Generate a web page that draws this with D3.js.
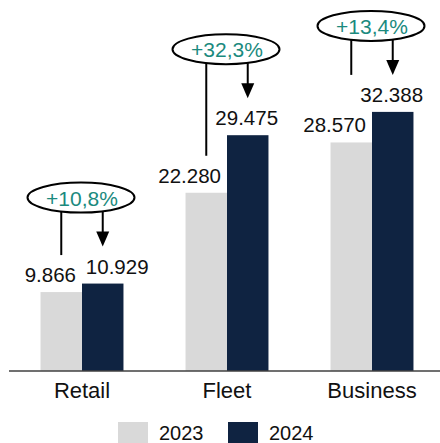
<!DOCTYPE html>
<html>
<head>
<meta charset="utf-8">
<script src="https://cdn.jsdelivr.net/npm/d3@7"></script>
<style>
  html, body { margin: 0; padding: 0; background: #fff; }
  svg { display: block; font-family: "Liberation Sans", Arial, sans-serif; }
</style>
</head>
<body>
<svg id="chart" width="440" height="443"></svg>
<script>
// Data
const categories = ["Retail", "Fleet", "Business"];
const seriesNames = ["2023", "2024"];
const values2023 = [9866, 22280, 28570];
const values2024 = [10929, 29475, 32388];
// which series the left stem of each growth callout ends above
const stemAnchor = ["2023", "2023", "2024"];

const colors = { "2023": "#d9d9d9", "2024": "#0f2341" };
const growthColor = "#1b8a7e";
const fontSize = 20;

const svg = d3.select("#chart");
const W = 440, H = 443;
const baseY = 371;

const x = d3.scaleBand()
  .domain(categories)
  .range([9.5, 444.5])
  .paddingInner(0.428)
  .paddingOuter(0.214);

const xs = d3.scaleBand()
  .domain(seriesNames)
  .range([0, x.bandwidth()]);

const y = d3.scaleLinear()
  .domain([0, 40000])
  .range([baseY, baseY - 320]);

const fmtNum = d3.formatLocale({ decimal: ",", thousands: ".", grouping: [3], currency: ["", ""] }).format(",d");
const fmtPct = d => "+" + d3.format(".1f")(d * 100).replace(".", ",") + "%";

const rows = categories.map((c, i) => ({
  cat: c,
  vals: { "2023": values2023[i], "2024": values2024[i] },
  stem: stemAnchor[i],
  growth: values2024[i] / values2023[i] - 1
}));

// Bars
const groups = svg.append("g").selectAll("g")
  .data(rows).join("g")
  .attr("transform", d => `translate(${x(d.cat)},0)`);

groups.selectAll("rect")
  .data(d => seriesNames.map(s => ({ s, v: d.vals[s] })))
  .join("rect")
  .attr("x", d => xs(d.s))
  .attr("y", d => y(d.v))
  .attr("width", xs.bandwidth())
  .attr("height", d => baseY - y(d.v))
  .attr("fill", d => colors[d.s]);

// Value labels: 2023 right-aligned just left of the group centre, 2024 centred over its bar
const labelGap = 10;
const nudge2024 = { "Retail": 14.5, "Fleet": -1, "Business": -1 };
groups.append("text")
  .attr("x", x.bandwidth() / 2 - 6)
  .attr("y", d => y(d.vals["2023"]) - labelGap)
  .attr("text-anchor", "end")
  .attr("font-size", fontSize + 0.5)
  .attr("fill", "#111")
  .text(d => fmtNum(d.vals["2023"]));
groups.append("text")
  .attr("x", d => xs("2024") + xs.bandwidth() / 2 + nudge2024[d.cat])
  .attr("y", d => y(d.vals["2024"]) - labelGap)
  .attr("text-anchor", "middle")
  .attr("font-size", fontSize + 0.5)
  .attr("fill", "#111")
  .text(d => fmtNum(d.vals["2024"]));

// Growth callouts: ellipse with percentage, a stem over 2023 and an arrow onto 2024
const tipOffset = 37;
const ellipseAbove = 49;
const callouts = groups.append("g");
const cx = x.bandwidth() / 2 - 1;
const ecy = d => y(d.vals["2024"]) - tipOffset - ellipseAbove;

callouts.append("line")
  .attr("x1", xs("2023") + xs.bandwidth() / 2)
  .attr("x2", xs("2023") + xs.bandwidth() / 2)
  .attr("y1", ecy)
  .attr("y2", d => y(d.vals[d.stem]) - tipOffset)
  .attr("stroke", "#000").attr("stroke-width", 2);

const ax = xs("2024") + xs.bandwidth() / 2;
callouts.append("line")
  .attr("x1", ax).attr("x2", ax)
  .attr("y1", ecy)
  .attr("y2", d => y(d.vals["2024"]) - tipOffset - 12)
  .attr("stroke", "#000").attr("stroke-width", 2);
callouts.append("path")
  .attr("d", d => {
    const tip = y(d.vals["2024"]) - tipOffset;
    return `M${ax - 6.5},${tip - 15}L${ax + 6.5},${tip - 15}L${ax},${tip}Z`;
  })
  .attr("fill", "#000");

callouts.append("ellipse")
  .attr("cx", cx)
  .attr("cy", ecy)
  .attr("rx", 53.5)
  .attr("ry", 15)
  .attr("fill", "#fff")
  .attr("stroke", "#000")
  .attr("stroke-width", 2);
callouts.append("text")
  .attr("x", cx + 1)
  .attr("y", d => ecy(d) + 8)
  .attr("text-anchor", "middle")
  .attr("font-size", 21)
  .attr("fill", growthColor)
  .text(d => fmtPct(d.growth));

// Baseline axis
const xAxis = d3.axisBottom(x).tickSize(0).tickPadding(11.5);
const axisG = svg.append("g")
  .attr("transform", `translate(0,${baseY})`)
  .call(xAxis);
axisG.select(".domain").remove();
axisG.append("line")
  .attr("x1", 9).attr("x2", W)
  .attr("y1", 0).attr("y2", 0)
  .attr("stroke", "#404040").attr("stroke-width", 1.3);
axisG.selectAll(".tick text")
  .attr("font-size", 22)
  .attr("font-family", "Liberation Sans, Arial, sans-serif")
  .attr("fill", "#111");

// Legend
const legend = svg.append("g").attr("transform", "translate(118,422)");
const legendStep = 110;
const li = legend.selectAll("g").data(seriesNames).join("g")
  .attr("transform", (d, i) => `translate(${i * legendStep},0)`);
li.append("rect")
  .attr("width", 30).attr("height", 21)
  .attr("fill", d => colors[d]);
li.append("text")
  .attr("x", 41).attr("y", 18)
  .attr("font-size", fontSize)
  .attr("fill", "#111")
  .text(d => d);
</script>
</body>
</html>
